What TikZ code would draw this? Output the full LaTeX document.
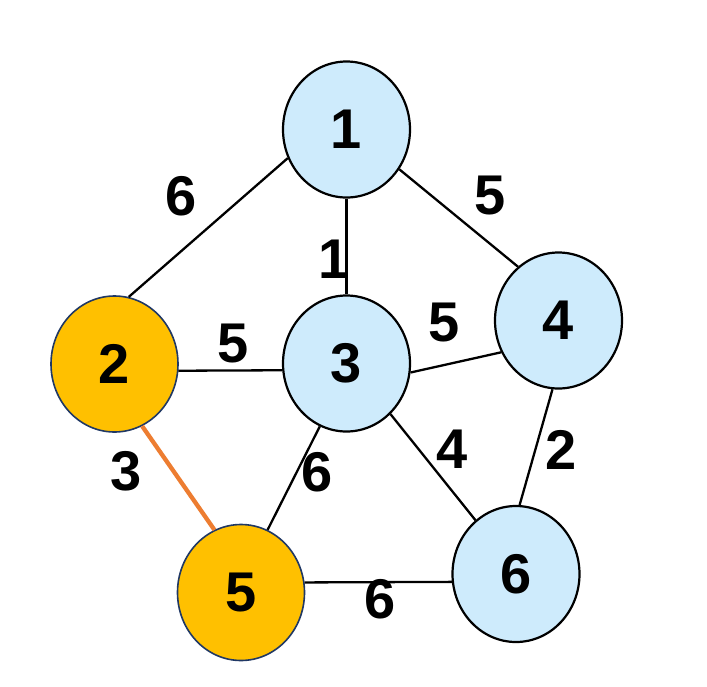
\documentclass[tikz,border=0pt]{standalone}
\usepackage{fontspec}
\setmainfont{Liberation Sans}
\usetikzlibrary{shapes.geometric}
\definecolor{nodeblue}{RGB}{206,235,252}
\definecolor{gold}{RGB}{255,192,0}
\definecolor{navy}{RGB}{32,56,100}
\definecolor{edgeorange}{RGB}{237,125,49}
\begin{document}
\begin{tikzpicture}[x=1pt,y=1pt,
  vert/.style={ellipse, draw=black, line width=2.2pt, fill=nodeblue,
    minimum width=127pt, minimum height=136pt, inner sep=0pt,
    font=\fontsize{56}{56}\selectfont\bfseries},
  pick/.style={vert, fill=gold, draw=navy, line width=1.6pt},
  edge/.style={draw=black, line width=2.3pt},
  chosen/.style={draw=edgeorange, line width=4.3pt},
  wt/.style={font=\fontsize{56}{56}\selectfont\bfseries, inner sep=0pt}]
\useasboundingbox (0,0) rectangle (707,-686);
\fill[white] (0,0) rectangle (707,-686);
% nodes
\node[vert] (n1) at (346.5,-129.5) {1};
\node[pick] (n2) at (114.5,-364) {2};
\node[vert] (n3) at (346.5,-363.5) {3};
\node[vert] (n4) at (558.5,-320.5) {4};
\node[pick] (n5) at (241,-592.5) {5};
\node[vert] (n6) at (516,-574) {6};
% edges
\draw[edge] (n1.206) -- (n2.78);
\draw[edge] (n1.270) -- (n3.90);
\draw[edge] (n1.323) -- (n4.127);
\draw[edge] (n2.354) -- (n3.186);
\draw[edge] (n3.352) -- (n4.209.5);
\draw[edge] (n3.247) -- (n5.67);
\draw[edge] (n3.311) -- (n6.127);
\draw[edge] (n4.265) -- (n6.87);
\draw[edge] (n5.9.5) -- (n6.187);
\draw[chosen] (n2.294) -- (n5.113);
% weights
\node[wt] (w12) at (181,-196) {6};
\node[wt] (w14) at (490,-196) {5};
\node[wt] (w13) at (334,-259) {1};
\node[wt] (w23) at (233,-344) {5};
\node[wt] (w34) at (444,-323) {5};
\node[wt] (w25) at (126,-471) {3};
\node[wt] (w35) at (317.5,-472) {6};
\node[wt] (w36) at (452,-449) {4};
\node[wt] (w46) at (561,-450) {2};
\node[wt] (w56) at (380.5,-599) {6};
\end{tikzpicture}
\end{document}
